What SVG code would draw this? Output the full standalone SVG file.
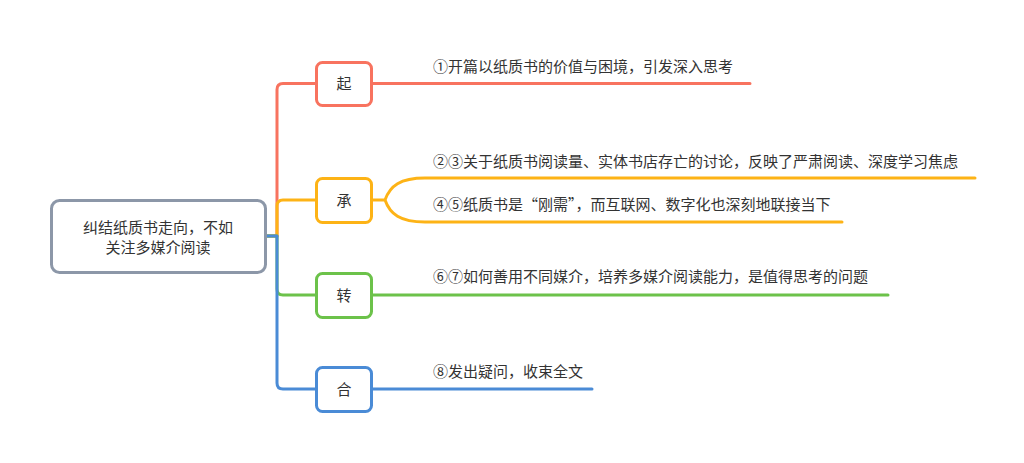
<svg xmlns="http://www.w3.org/2000/svg" width="1024" height="463" viewBox="0 0 1024 463">
<style>
text{font-family:"Microsoft YaHei","Noto Sans CJK SC",sans-serif;font-size:15px;fill:#333}
.c{text-anchor:middle}
.ln{fill:none;stroke-width:3;stroke-linecap:round;stroke-linejoin:round}
.node{fill:#fff;stroke-width:3}
.red{stroke:#f8735f}
.yel{stroke:#fdb316}
.grn{stroke:#6cc24a}
.blu{stroke:#4a8bd6}
</style>
<rect width="1024" height="463" fill="#fff"/>
<g id="connectors">
<path class="ln red" d="M266,236 H277 V89.5 Q277,83.5 283,83.5 H316 M372,83.5 H750"/>
<path class="ln yel" d="M266,236 H277 V206 Q277,200 283,200 H316 M372,200 H385 C390,186 400,178 425,178 H975 M385,200 C390,214 400,222 425,222 H842"/>
<path class="ln grn" d="M266,236 H277 V289 Q277,295 283,295 H316 M372,295 H888"/>
<path class="ln blu" d="M266,236 H277 V383 Q277,389 283,389 H316 M372,389 H592"/>
</g>
<g id="root">
<rect x="51.5" y="200.5" width="214" height="72" rx="8" class="node" stroke="#8c97a8"/>
<text x="158" y="232.5" class="c">纠结纸质书走向，不如</text>
<text x="158" y="252.5" class="c">关注多媒介阅读</text>
</g>
<g id="n-qi">
<rect x="316.5" y="62.5" width="55" height="43" rx="6" class="node red"/>
<text x="344" y="89" class="c">起</text>
</g>
<g id="n-cheng">
<rect x="316.5" y="178.5" width="55" height="44" rx="6" class="node yel"/>
<text x="344" y="205.5" class="c">承</text>
</g>
<g id="n-zhuan">
<rect x="316.5" y="273.5" width="55" height="44" rx="6" class="node grn"/>
<text x="344" y="300.5" class="c">转</text>
</g>
<g id="n-he">
<rect x="316.5" y="367.5" width="55" height="44" rx="6" class="node blu"/>
<text x="344" y="394.5" class="c">合</text>
</g>
<g id="t1"><text x="433" y="72">①开篇以纸质书的价值与困境，引发深入思考</text></g>
<g id="t2"><text x="433" y="167">②③关于纸质书阅读量、实体书店存亡的讨论，反映了严肃阅读、深度学习焦虑</text></g>
<g id="t3"><text x="433" y="210">④⑤纸质书是“刚需”，而互联网、数字化也深刻地联接当下</text></g>
<g id="t4"><text x="433" y="282">⑥⑦如何善用不同媒介，培养多媒介阅读能力，是值得思考的问题</text></g>
<g id="t5"><text x="433" y="377">⑧发出疑问，收束全文</text></g>
</svg>
